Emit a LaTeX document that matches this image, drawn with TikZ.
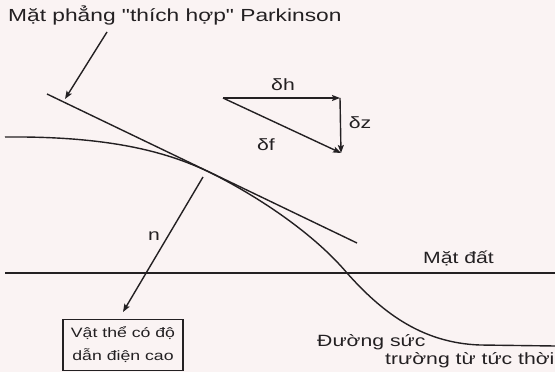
\documentclass[tikz,border=0pt]{standalone}
\usepackage{fontspec}
\newfontfamily\lsans{Liberation Sans}[FakeStretch=1.3]
\usetikzlibrary{arrows.meta}
\definecolor{bg}{RGB}{250,243,243}
\definecolor{ink}{RGB}{35,32,34}
\tikzset{
  ln/.style={draw=ink, line width=1.4pt},
  arr/.style={ln, -{Stealth[length=8pt,width=6pt,inset=1.5pt]}},
  lbl/.style={text=ink, inner sep=0pt, font=\lsans\fontsize{16.3}{20}\selectfont},
  ttl/.style={text=ink, inner sep=0pt, font=\lsans\fontsize{17.5}{20}\selectfont},
  boxnode/.style={draw=ink, line width=1.4pt, text=ink, align=center, minimum width=120pt, minimum height=51pt, inner sep=0pt, font=\lsans\fontsize{13.6}{23}\selectfont}
}
\begin{document}
\begin{tikzpicture}[x=1pt,y=-1pt]
\fill[bg] (0,0) rectangle (555,372);
\useasboundingbox (0,0) rectangle (555,372);
% labels
\node[ttl, anchor=base west] (title) at (8,21) {Mặt phẳng "thích hợp" Parkinson};
\node[lbl, anchor=base west] (ground) at (423,263) {Mặt đất};
\node[lbl, anchor=base west] (fl1) at (317,346) {Đường sức};
\node[lbl, anchor=base west] (fl2) at (385,364) {trường từ tức thời};
\node[lbl] (nlbl) at (154,236) {n};
\node[lbl] (dh) at (283,85) {δh};
\node[lbl] (dz) at (360,123) {δz};
\node[lbl] (df) at (266,145) {δf};
\node[boxnode] (box) at (123,345) {Vật thể có độ\\dẫn điện cao};
% coordinates
\coordinate (ta) at (107,32);
\coordinate (tb) at (65,99);
\coordinate (p1) at (47,94);
\coordinate (p2) at (357,243);
\coordinate (g1) at (5,273);
\coordinate (g2) at (555,273);
\coordinate (n1) at (203,177);
\coordinate (n2) at (123,312);
\coordinate (A) at (223,98);
\coordinate (B) at (340,98);
\coordinate (C) at (341,153);
\coordinate (f0) at (5,137);
\coordinate (f1) at (215,175);
\coordinate (f2) at (347,273);
\coordinate (f3) at (480,345);
\coordinate (f4) at (555,346);
% drawing
\draw[arr] (ta) -- (tb);
\draw[ln] (p1) -- (p2);
\draw[ln] (g1) -- (g2);
\draw[ln] (f0) .. controls (110,136) and (170,152) .. (f1)
  .. controls (262,199) and (315,235) .. (f2)
  .. controls (380,310) and (420,343) .. (f3) -- (f4);
\draw[arr] (n1) -- (n2);
\draw[arr] (A) -- (B);
\draw[arr] (B) -- (C);
\draw[arr] (A) -- (C);
\end{tikzpicture}
\end{document}
